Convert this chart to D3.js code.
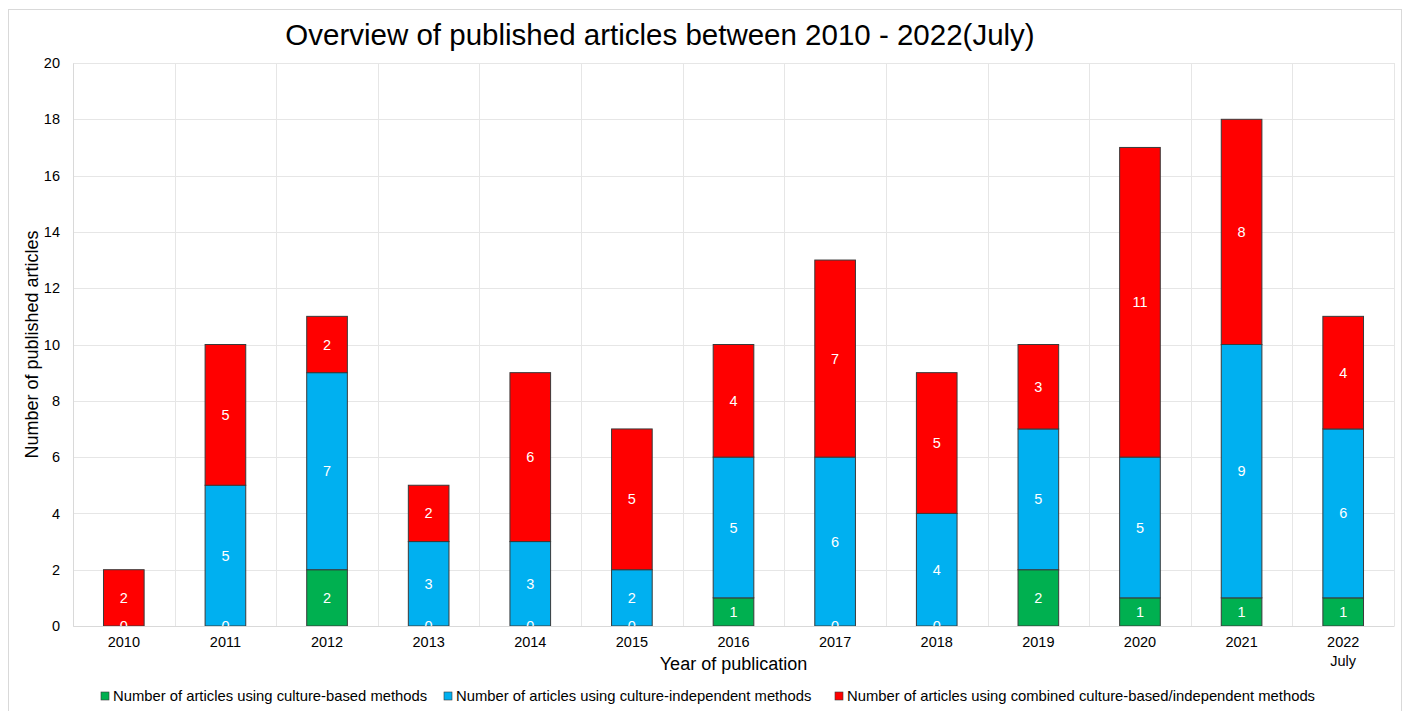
<!DOCTYPE html>
<html>
<head>
<meta charset="utf-8">
<script src="https://cdn.jsdelivr.net/npm/d3@7"></script>
<style>
  body { margin: 0; background: #fff; }
  svg { font-family: "Liberation Sans", Arial, sans-serif; }
</style>
</head>
<body>
<div id="chart"></div>
<script>
// values
let years = ["2010", "2011", "2012", "2013", "2014", "2015", "2016", "2017", "2018", "2019", "2020", "2021", "2022"];
let cultureBased = [0, 0, 2, 0, 0, 0, 1, 0, 0, 2, 1, 1, 1];
let cultureIndependent = [0, 5, 7, 3, 3, 2, 5, 6, 4, 5, 5, 9, 6];
let combined = [2, 5, 2, 2, 6, 5, 4, 7, 5, 3, 11, 8, 4];
let yTicks = [0, 2, 4, 6, 8, 10, 12, 14, 16, 18, 20];
let seriesNames = [
    "Number of articles using culture-based methods",
    "Number of articles using culture-independent methods",
    "Number of articles using combined culture-based/independent methods"
];
let colors = ["#00B050", "#00B0F0", "#FF0000"];

let width = 1408;
let height = 711;
let margin = ({ top: 63, right: 14, bottom: 85, left: 73 });

let rows = years.map((y, i) => ({
    year: y,
    a: cultureBased[i],
    b: cultureIndependent[i],
    c: combined[i]
}));
let keys = ["a", "b", "c"];
let stacked = d3.stack().keys(keys)(rows);

let x = d3.scaleBand()
    .domain(years)
    .range([margin.left, width - margin.right])
    .paddingInner(0.6)
    .paddingOuter(0.3);

let y = d3.scaleLinear()
    .domain([0, 20])
    .range([height - margin.bottom, margin.top]);

let svg = d3.select("#chart")
    .append("svg")
    .attr("width", width)
    .attr("height", height);

// outer frame
svg.append("rect")
    .attr("x", 8.5).attr("y", 9.5)
    .attr("width", 1393).attr("height", 720)
    .attr("fill", "none")
    .attr("stroke", "#d9d9d9");

// grid
let bounds = d3.range(years.length + 1).map(i => margin.left + i * (width - margin.left - margin.right) / years.length);

svg.append("g")
    .attr("stroke", "#e6e6e6")
    .selectAll("line")
    .data(yTicks)
    .join("line")
    .attr("x1", margin.left).attr("x2", width - margin.right)
    .attr("y1", d => Math.round(y(d)) + 0.5).attr("y2", d => Math.round(y(d)) + 0.5);

svg.append("g")
    .attr("stroke", "#e6e6e6")
    .selectAll("line")
    .data(bounds)
    .join("line")
    .attr("x1", d => Math.round(d) + 0.5).attr("x2", d => Math.round(d) + 0.5)
    .attr("y1", margin.top).attr("y2", height - margin.bottom);

// axes
let yAxis = g => g
    .attr("transform", `translate(${margin.left},0)`)
    .call(d3.axisLeft(y).tickValues(yTicks).tickSize(0).tickPadding(13))
    .call(g => g.select(".domain").attr("stroke", "#d9d9d9"))
    .call(g => g.selectAll("text").attr("font-size", 14.5).attr("fill", "#000")
        .attr("font-family", "Liberation Sans, Arial, sans-serif"));

let xAxis = g => g
    .attr("transform", `translate(0,${height - margin.bottom})`)
    .call(d3.axisBottom(x).tickSize(0).tickPadding(11))
    .call(g => g.select(".domain").attr("stroke", "#d9d9d9"))
    .call(g => g.selectAll("text").attr("font-size", 14.5).attr("fill", "#000")
        .attr("font-family", "Liberation Sans, Arial, sans-serif"));

svg.append("g").call(yAxis);
svg.append("g").call(xAxis);

svg.append("text")
    .attr("x", x("2022") + x.bandwidth() / 2)
    .attr("y", 666)
    .attr("text-anchor", "middle")
    .attr("font-size", 14.5)
    .text("July");

// clip for the bars/labels
svg.append("clipPath").attr("id", "plot")
    .append("rect")
    .attr("x", margin.left).attr("y", margin.top)
    .attr("width", width - margin.left - margin.right)
    .attr("height", height - margin.top - margin.bottom);

let layer = svg.append("g")
    .attr("clip-path", "url(#plot)")
    .selectAll("g")
    .data(stacked)
    .join("g")
    .attr("fill", (d, i) => colors[i]);

layer.selectAll("rect")
    .data(d => d.filter(s => s[1] > s[0]))
    .join("rect")
    .attr("x", d => x(d.data.year))
    .attr("y", d => y(d[1]))
    .attr("width", x.bandwidth())
    .attr("height", d => y(d[0]) - y(d[1]))
    .attr("stroke", "#3a3a3a")
    .attr("stroke-width", 1);

// value labels (zero counts of the first series sit on the baseline, half clipped)
svg.append("g")
    .attr("clip-path", "url(#plot)")
    .attr("fill", "#fff")
    .attr("font-size", 14.5)
    .attr("text-anchor", "middle")
    .selectAll("g")
    .data(stacked)
    .join("g")
    .selectAll("text")
    .data((d, i) => d.filter(s => s[1] > s[0] || i === 0))
    .join("text")
    .attr("x", d => x(d.data.year) + x.bandwidth() / 2)
    .attr("y", d => (y(d[0]) + y(d[1])) / 2)
    .attr("dy", "0.35em")
    .text(d => d[1] - d[0]);

// titles
svg.append("text")
    .attr("x", 660)
    .attr("y", 45)
    .attr("text-anchor", "middle")
    .attr("font-size", 29.5)
    .text("Overview of published articles between 2010 - 2022(July)");

svg.append("text")
    .attr("x", (margin.left + width - margin.right) / 2)
    .attr("y", 670)
    .attr("text-anchor", "middle")
    .attr("font-size", 18)
    .text("Year of publication");

svg.append("text")
    .attr("transform", `translate(38,${(margin.top + height - margin.bottom) / 2}) rotate(-90)`)
    .attr("text-anchor", "middle")
    .attr("font-size", 18)
    .text("Number of published articles");

// legend
let legendX = [101, 444, 835];
let legend = svg.append("g")
    .selectAll("g")
    .data(seriesNames)
    .join("g")
    .attr("transform", (d, i) => `translate(${legendX[i]},692)`);

legend.append("rect")
    .attr("width", 8).attr("height", 8)
    .attr("fill", (d, i) => colors[i])
    .attr("stroke", "#3a3a3a")
    .attr("stroke-width", 0.6);

legend.append("text")
    .attr("x", 12)
    .attr("y", 4)
    .attr("dy", "0.35em")
    .attr("font-size", 14.8)
    .text(d => d);
</script>
</body>
</html>
